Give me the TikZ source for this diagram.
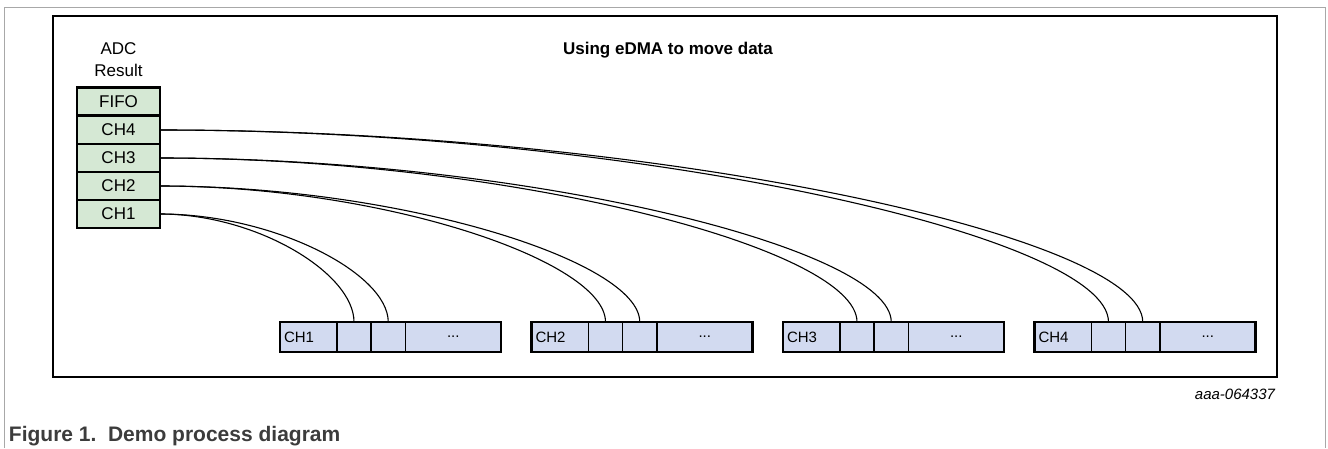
\documentclass[tikz,border=0pt]{standalone}
\usepackage{fontspec}
\setmainfont{Liberation Sans}
\usetikzlibrary{calc}
\definecolor{adcgreen}{HTML}{D5E8D4}
\definecolor{bufblue}{HTML}{D2DAF0}
\definecolor{framegray}{HTML}{A8A8A8}
\definecolor{capgray}{HTML}{3C3C3C}
\begin{document}
\begin{tikzpicture}[x=1pt,y=-1pt,
  adcbox/.style={draw, line width=2.3pt, fill=adcgreen, minimum width=83pt, minimum height=28pt, inner sep=0pt, outer sep=0pt, font=\fontsize{17}{20}\selectfont},
  cell/.style={draw, line width=1.6pt, fill=bufblue, minimum height=30pt, inner sep=0pt, outer sep=0pt, anchor=west, font=\fontsize{15}{18}\selectfont},
  link/.style={line width=1.1pt},
  plain/.style={inner sep=0pt, outer sep=0pt}
]
\useasboundingbox (0,0) rectangle (1328,448);
\draw[framegray, line width=1pt] (4,448) -- (4,7) -- (1325,7) -- (1325,448);
\draw[line width=2.5pt] (53,16) rectangle (1277,377);

\node[plain, font=\bfseries\fontsize{17}{20}\selectfont] (title) at (668,50) {Using eDMA to move data};
\node[plain, align=center, font=\fontsize{17}{22}\selectfont] (adclbl) at (118.5,60) {ADC\\Result};

\node[adcbox] (fifo) at (118.5,101.5) {FIFO};
\node[adcbox] (adc4) at (118.5,130) {CH4};
\node[adcbox] (adc3) at (118.5,158) {CH3};
\node[adcbox] (adc2) at (118.5,186) {CH2};
\node[adcbox] (adc1) at (118.5,214) {CH1};

\foreach \k/\x in {1/280,2/531.5,3/783,4/1034.5} {
  \node[cell, text width=49pt, inner xsep=4pt, align=left] (L\k) at (\x,337) {CH\k};
  \node[cell, minimum width=34pt] (A\k) at (L\k.east) {};
  \node[cell, minimum width=34.5pt] (B\k) at (A\k.east) {};
  \node[cell, minimum width=95.5pt, align=center] (D\k) at (B\k.east) {...};
  \draw[line width=2.4pt] (L\k.north west) rectangle (D\k.south east);
}

\foreach \k in {1,...,4} {
  \foreach \t in {A,B} {
    \coordinate (K\t\k) at (adc\k.east -| \t\k.north);
    \draw[link] (adc\k.east) .. controls ($(adc\k.east)!0.5!(K\t\k)$) and ($(\t\k.north)!0.45!(K\t\k)$) .. (\t\k.north);
  }
}

\node[plain, anchor=east, font=\itshape\fontsize{15}{18}\selectfont] (code) at (1275,394) {aaa-064337};
\node[plain, anchor=west, font=\bfseries\fontsize{21}{24}\selectfont, text=capgray] (caption) at (9,436) {Figure 1.\hspace{0.55em}Demo process diagram};
\end{tikzpicture}
\end{document}
